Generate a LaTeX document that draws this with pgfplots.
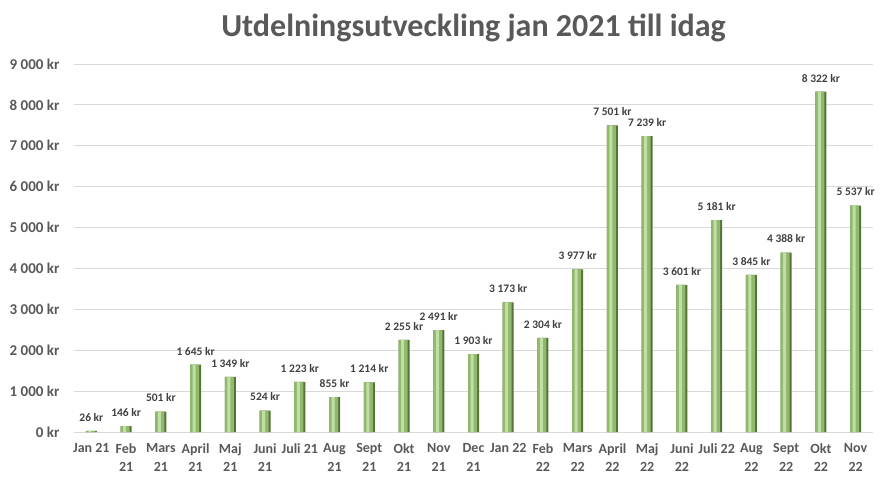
\documentclass[border=0pt]{standalone}
\usepackage{fontspec}
\setmainfont{Carlito}
\usepackage{pgfplots}
\usepackage{pgfplotstable}
\pgfplotsset{compat=1.18}
\definecolor{txt}{RGB}{89,89,89}
\definecolor{lbl}{RGB}{64,64,64}
\definecolor{grd}{RGB}{217,217,217}
\definecolor{barDark}{RGB}{84,116,56}
\definecolor{barMid}{RGB}{145,185,110}
\definecolor{barLight}{RGB}{192,222,166}

\pgfplotstableread{
x  val
0  26
1  146
2  501
3  1645
4  1349
5  524
6  1223
7  855
8  1214
9  2255
10 2491
11 1903
12 3173
13 2304
14 3977
15 7501
16 7239
17 3601
18 5181
19 3845
20 4388
21 8322
22 5537
}\utdelning

\begin{document}
\begin{tikzpicture}
\useasboundingbox (0pt,0pt) rectangle (883pt,477pt);
\begin{axis}[
  at={(74pt,45pt)}, anchor=south west,
  scale only axis, width=799pt, height=368pt,
  xmin=-0.5, xmax=22.5, ymin=0, ymax=9000,
  axis line style={draw=none},
  major tick length=0pt,
  ymajorgrids, grid style={grd, line width=0.8pt},
  ytick={0,1000,...,9000},
  yticklabels={0 kr, 1 000 kr, 2 000 kr, 3 000 kr, 4 000 kr, 5 000 kr, 6 000 kr, 7 000 kr, 8 000 kr, 9 000 kr},
  yticklabel style={font=\fontsize{15}{18}\selectfont\bfseries, text=txt, xshift=-11pt},
  xtick={0,...,22},
  xticklabels={Jan 21, {Feb\\21}, {Mars\\21}, {April\\21}, {Maj\\21}, {Juni\\21}, Juli 21, {Aug\\21}, {Sept\\21}, {Okt\\21}, {Nov\\21}, {Dec\\21},
    Jan 22, {Feb\\22}, {Mars\\22}, {April\\22}, {Maj\\22}, {Juni\\22}, Juli 22, {Aug\\22}, {Sept\\22}, {Okt\\22}, {Nov\\22}},
  xticklabel style={font=\fontsize{14}{18.5}\selectfont\bfseries, text=txt, align=center, anchor=north, yshift=-8pt},
  title={Utdelningsutveckling jan 2021 till idag},
  title style={font=\fontsize{32}{38}\selectfont\bfseries, text=txt, at={(0.5,1)}, anchor=base, yshift=22pt},
  /pgf/number format/assume math mode=true,
  /pgf/number format/1000 sep={\ },
  ybar,
]
\addplot[draw=none, fill=barDark, bar width=11pt, bar shift=0pt,
  nodes near coords={\pgfmathprintnumber{\pgfplotspointmeta}~kr},
  nodes near coords style={font=\fontsize{11.5}{14}\selectfont\bfseries, text=lbl, yshift=6pt}]
  table[x=x, y=val] {\utdelning};
\addplot[draw=none, fill=barMid, bar width=9pt, bar shift=-1pt] table[x=x, y=val] {\utdelning};
\addplot[draw=none, fill=barLight, bar width=3pt, bar shift=-1.5pt] table[x=x, y=val] {\utdelning};
\end{axis}
\end{tikzpicture}
\end{document}
